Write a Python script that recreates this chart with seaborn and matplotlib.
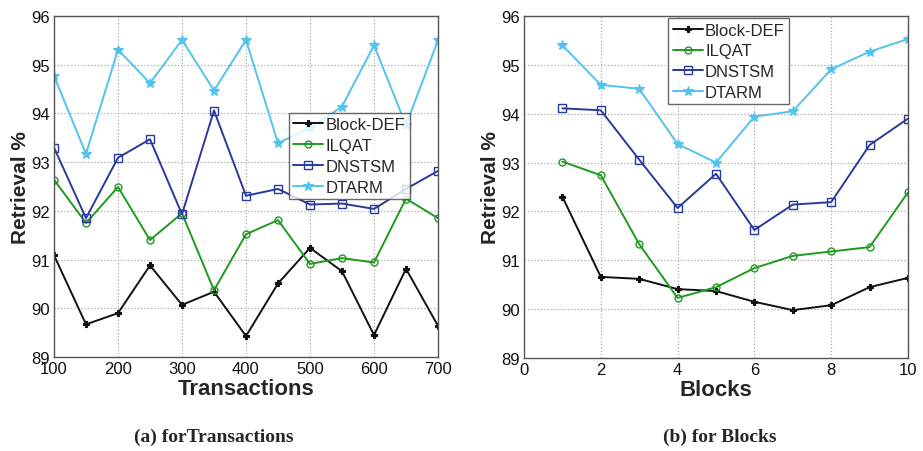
import matplotlib
matplotlib.use("Agg")
import matplotlib.pyplot as plt
import seaborn as sns
import pandas as pd

# Retrieval % versus number of transactions
transactions = [100, 150, 200, 250, 300, 350, 400, 450, 500, 550, 600, 650, 700]
tx_block_def = [91.09, 89.67, 89.90, 90.88, 90.07, 90.34, 89.43, 90.51, 91.24, 90.76, 89.45, 90.81, 89.64]
tx_ilqat = [92.64, 91.75, 92.49, 91.40, 91.95, 90.37, 91.52, 91.81, 90.91, 91.03, 90.94, 92.25, 91.85]
tx_dnstsm = [93.30, 91.85, 93.09, 93.47, 91.93, 94.06, 92.31, 92.45, 92.13, 92.15, 92.04, 92.45, 92.82]
tx_dtarm = [94.77, 93.17, 95.31, 94.62, 95.51, 94.47, 95.51, 93.39, 93.70, 94.14, 95.40, 93.76, 95.50]

# Retrieval % versus number of blocks
blocks = [1, 2, 3, 4, 5, 6, 7, 8, 9, 10]
bl_block_def = [92.30, 90.66, 90.62, 90.41, 90.37, 90.15, 89.98, 90.08, 90.45, 90.64]
bl_ilqat = [93.02, 92.74, 91.33, 90.23, 90.45, 90.84, 91.09, 91.18, 91.27, 92.39]
bl_dnstsm = [94.11, 94.07, 93.06, 92.07, 92.77, 91.62, 92.14, 92.19, 93.36, 93.90]
bl_dtarm = [95.40, 94.59, 94.51, 93.38, 93.00, 93.94, 94.05, 94.91, 95.27, 95.53]

methods = ["Block-DEF", "ILQAT", "DNSTSM", "DTARM"]
x_ticks_tx = [100, 200, 300, 400, 500, 600, 700]
x_ticks_bl = [0, 2, 4, 6, 8, 10]
y_ticks = [89, 90, 91, 92, 93, 94, 95, 96]

styles = {
    "Block-DEF": dict(color="#111111", marker="P", ms=5, mfc="#111111", mew=0.8),
    "ILQAT": dict(color="#1f9a1f", marker="o", ms=5, mfc="none", mew=1.0),
    "DNSTSM": dict(color="#2a3a9c", marker="s", ms=6, mfc="none", mew=1.0),
    "DTARM": dict(color="#52c3ef", marker="*", ms=7, mfc="#52c3ef", mew=0.8),
}

sns.set_style("white")
plt.rcParams["font.family"] = ["Liberation Sans", "DejaVu Sans"]

fig = plt.figure(figsize=(9.23, 4.52), dpi=100)
ax1 = fig.add_axes([54 / 923, 1 - 358 / 452, 384 / 923, 341 / 452])
ax2 = fig.add_axes([524 / 923, 1 - 359 / 452, 384 / 923, 342 / 452])


def draw(ax, x, series, xlabel, xticks, xlim, legend_loc, anchor):
    df = pd.DataFrame({"x": x})
    for name, vals in zip(methods, series):
        df[name] = vals
    for name in methods:
        st = styles[name]
        sns.lineplot(data=df, x="x", y=name, ax=ax, color=st["color"], lw=1.4,
                     marker=st["marker"], markersize=st["ms"],
                     markerfacecolor=st["mfc"], markeredgecolor=st["color"],
                     markeredgewidth=st["mew"], label=name)
    ax.set_xlim(*xlim)
    ax.set_ylim(89, 96)
    ax.set_xticks(xticks)
    ax.set_yticks(y_ticks)
    ax.grid(True, linestyle=(0, (1, 2)), color="#9a9a9a", lw=0.8)
    ax.tick_params(direction="in", labelsize=12, length=4, colors="#333333",
                   labelcolor="#111111", pad=3)
    for sp in ax.spines.values():
        sp.set_visible(True)
        sp.set_color("#555555")
        sp.set_linewidth(1.0)
    ax.set_xlabel(xlabel, fontsize=16, fontweight="bold", labelpad=1)
    ax.set_ylabel("Retrieval %", fontsize=15, fontweight="bold", labelpad=1)
    leg = ax.legend(loc=legend_loc, bbox_to_anchor=anchor, fontsize=12,
                    frameon=True, fancybox=False, handlelength=1.8,
                    handletextpad=0.15, borderpad=0.25, labelspacing=0.35,
                    borderaxespad=0.0)
    leg.get_frame().set_edgecolor("#444444")
    leg.get_frame().set_linewidth(1.0)


draw(ax1, transactions, [tx_block_def, tx_ilqat, tx_dnstsm, tx_dtarm],
     "Transactions", x_ticks_tx, (100, 700), "upper left", (0.612, 0.716))
draw(ax2, blocks, [bl_block_def, bl_ilqat, bl_dnstsm, bl_dtarm],
     "Blocks", x_ticks_bl, (0, 10), "upper right", (0.69, 0.993))

fig.text(214 / 923, 1 - 437 / 452, "(a) forTransactions", ha="center", va="center",
         fontsize=14, fontweight="bold", family=["Liberation Serif", "DejaVu Serif"])
fig.text(720 / 923, 1 - 437 / 452, "(b) for Blocks", ha="center", va="center",
         fontsize=14, fontweight="bold", family=["Liberation Serif", "DejaVu Serif"])

fig.savefig("out.png", dpi=100, facecolor="white")
